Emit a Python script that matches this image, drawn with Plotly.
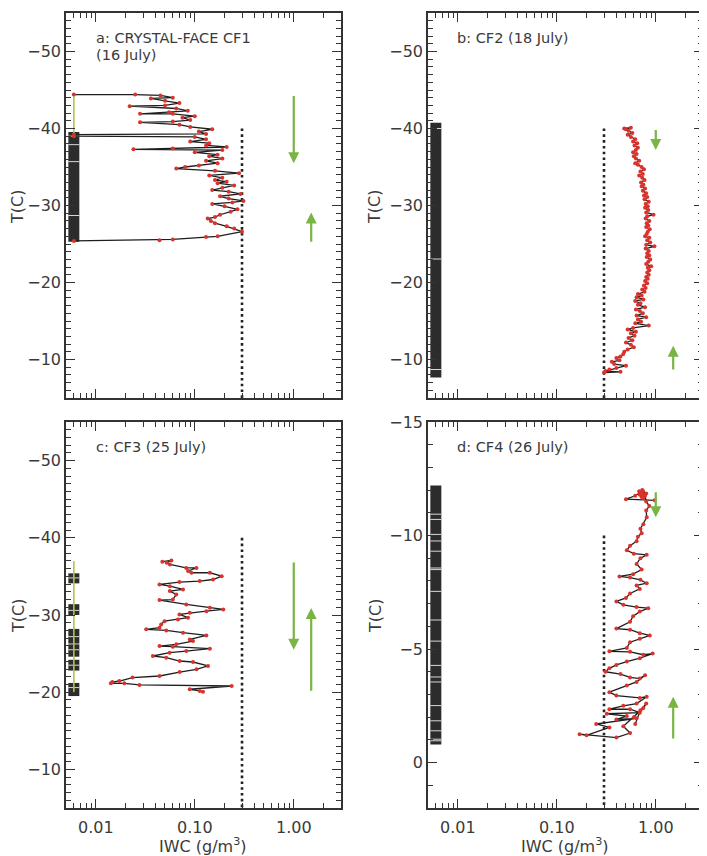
import math
import plotly.graph_objects as go

# ---------------- data ----------------
# Panel a: CRYSTAL-FACE CF1 (16 July)
a_T = [-25.4, -25.5, -25.6, -25.9, -26.0, -26.6, -27.0, -27.3, -27.7, -28.0,
       -28.3, -28.5, -28.8, -29.2, -29.5, -29.9, -30.2, -30.4, -30.6, -30.9,
       -31.2, -31.5, -31.8, -32.0, -32.3, -32.6, -32.9, -33.1, -33.3, -33.6,
       -33.9, -34.2, -34.5, -34.8, -35.0, -35.2, -35.5, -35.8, -36.1, -36.4,
       -36.6, -36.9, -37.2, -37.3, -37.4, -37.6, -37.8, -38.1, -38.3, -38.6,
       -38.9, -39.0, -39.2, -39.3, -39.6, -39.9, -40.2, -40.5, -40.8, -40.9,
       -41.1, -41.4, -41.6, -41.9, -41.9, -42.1, -42.3, -42.6, -42.9, -43.0,
       -43.3, -43.6, -43.9, -44.0, -44.3, -44.4, -44.4]
a_IWC = [0.0060, 0.044, 0.060, 0.13, 0.17, 0.30, 0.25, 0.21, 0.16, 0.145,
         0.135, 0.16, 0.18, 0.23, 0.27, 0.20, 0.15, 0.24, 0.31, 0.22,
         0.18, 0.29, 0.22, 0.15, 0.19, 0.25, 0.17, 0.21, 0.16, 0.19,
         0.14, 0.28, 0.16, 0.065, 0.08, 0.11, 0.17, 0.13, 0.19, 0.14,
         0.17, 0.10, 0.19, 0.024, 0.06, 0.21, 0.13, 0.14, 0.09, 0.13,
         0.10, 0.0060, 0.0060, 0.13, 0.11, 0.15, 0.09, 0.07, 0.028, 0.06,
         0.09, 0.075, 0.10, 0.06, 0.028, 0.055, 0.085, 0.065, 0.022, 0.05,
         0.07, 0.05, 0.036, 0.06, 0.045, 0.025, 0.0060]

# Panel b: CF2 (18 July)
b_T = [-40.0, -40.1, -39.9, -39.7, -39.4, -39.2, -38.9, -38.6, -38.3, -38.1,
       -37.8, -37.5, -37.2, -36.9, -36.7, -36.4, -36.1, -35.8, -35.5, -35.3,
       -35.0, -34.7, -34.4, -34.1, -33.9, -33.6, -33.3, -33.0, -32.7, -32.5,
       -32.2, -31.9, -31.6, -31.3, -31.1, -30.8, -30.5, -30.2, -29.9, -29.7,
       -29.4, -29.1, -28.8, -28.6, -28.3, -28.0, -27.7, -27.4, -27.2, -26.9,
       -26.6, -26.3, -26.0, -25.8, -25.5, -25.2, -24.9, -24.7, -24.4, -24.1,
       -23.8, -23.5, -23.3, -23.0, -22.7, -22.4, -22.1, -21.9, -21.6, -21.3,
       -21.0, -20.7, -20.5, -20.2, -19.9, -19.6, -19.3, -19.1, -18.8, -18.5,
       -18.3, -18.1, -17.8, -17.6, -17.3, -17.1, -16.8, -16.5, -16.3, -16.0,
       -15.7, -15.5, -15.2, -14.9, -14.7, -14.4, -14.1, -13.9, -13.6, -13.4,
       -13.1, -12.8, -12.5, -12.2, -11.9, -11.6, -11.3, -11.0, -10.7, -10.4,
       -10.2, -9.9, -9.7, -9.4, -9.2, -8.9, -8.7, -8.5, -8.4, -8.3]
b_IWC = [0.48, 0.56, 0.50, 0.53, 0.58, 0.52, 0.56, 0.62, 0.59, 0.65,
         0.61, 0.66, 0.63, 0.59, 0.64, 0.60, 0.63, 0.68, 0.62, 0.66,
         0.72, 0.76, 0.70, 0.74, 0.68, 0.73, 0.77, 0.71, 0.75, 0.72,
         0.78, 0.74, 0.80, 0.76, 0.82, 0.77, 0.85, 0.79, 0.83, 0.78,
         0.84, 0.80, 0.95, 0.82, 0.79, 0.86, 0.81, 0.84, 0.80, 0.87,
         0.83, 0.81, 0.78, 0.86, 0.82, 0.88, 0.80, 0.97, 0.79, 0.85,
         0.82, 0.86, 0.81, 0.88, 0.84, 0.80, 0.90, 0.83, 0.86, 0.82,
         0.85, 0.80, 0.83, 0.78, 0.82, 0.76, 0.79, 0.73, 0.77, 0.66,
         0.72, 0.64, 0.75, 0.62, 0.70, 0.66, 0.78, 0.63, 0.69, 0.74,
         0.64, 0.80, 0.66, 0.71, 0.62, 0.85, 0.59, 0.52, 0.63, 0.56,
         0.61, 0.53, 0.58, 0.50, 0.56, 0.60, 0.52, 0.48, 0.47, 0.44,
         0.40, 0.43, 0.36, 0.38, 0.50, 0.40, 0.34, 0.31, 0.44, 0.30]

# Panel c: CF3 (25 July)
c_T = [-36.9, -37.06, -36.77, -36.55, -36.1, -36.1, -35.7, -35.47, -35.47, -35.03,
       -34.6, -34.4, -34.26, -33.96, -33.74, -33.31, -33.1, -32.67, -32.0, -31.93,
       -31.37, -30.94, -30.72, -30.5, -30.3, -30.08, -29.65, -29.43, -29.2, -28.78,
       -28.35, -28.14, -28.0, -27.71, -27.36, -26.84, -26.63, -26.2, -25.98, -25.9,
       -25.64, -25.33, -25.12, -24.69, -24.47, -24.04, -23.91, -23.4, -22.96, -22.61,
       -22.1, -21.89, -21.45, -21.32, -21.15, -21.15, -20.94, -20.8, -20.38, -20.16,
       -20.05]
c_IWC = [0.047, 0.058, 0.052, 0.056, 0.082, 0.104, 0.0855, 0.0925, 0.142, 0.187,
         0.153, 0.112, 0.070, 0.044, 0.056, 0.076, 0.056, 0.065, 0.060, 0.044,
         0.082, 0.142, 0.194, 0.131, 0.089, 0.070, 0.0855, 0.0676, 0.0495, 0.0457,
         0.044, 0.0323, 0.0515, 0.076, 0.131, 0.089, 0.096, 0.065, 0.044, 0.060,
         0.142, 0.082, 0.0557, 0.0377, 0.0515, 0.0703, 0.096, 0.136, 0.104, 0.0703,
         0.044, 0.0235, 0.0173, 0.0147, 0.0142, 0.0194, 0.0276, 0.236, 0.089, 0.112,
         0.121]

# Panel d: CF4 (26 July)
d_T = [-11.55, -11.6, -11.75, -11.9, -11.97, -11.85, -11.7, -11.95, -11.8, -11.9,
       -11.8, -11.65, -11.85, -12.0, -11.75, -11.5,
       -11.3, -11.1, -10.8, -10.5, -10.3, -10.1, -9.95, -9.75, -9.55, -9.35,
       -9.2, -9.15, -9.0, -8.75, -8.5, -8.3, -8.2, -8.15, -8.05, -7.9,
       -7.8, -7.65, -7.45, -7.25, -7.1, -6.95, -6.85, -6.8, -6.65, -6.45,
       -6.2, -5.9, -5.85, -5.7, -5.6, -5.45, -5.3, -5.05, -4.9, -4.88,
       -4.75, -4.8, -4.6, -4.45, -4.3, -4.15, -4.0, -3.9, -3.75, -3.7,
       -3.85, -3.55, -3.4, -3.1, -2.95, -2.85, -2.9, -2.6, -2.5, -2.35,
       -2.35, -2.2, -2.15, -2.05, -1.9, -1.95, -1.7, -1.55, -1.2, -1.25,
       -1.1, -1.3, -1.6, -2.0, -2.4, -2.6, -2.3, -1.7]
d_IWC = [0.975, 0.50, 0.62, 0.70, 0.74, 0.80, 0.72, 0.68, 0.76, 0.72,
         0.69, 0.75, 0.71, 0.73, 0.78, 0.80,
         0.86, 0.80, 0.81, 0.75, 0.70, 0.72, 0.66, 0.64, 0.55, 0.51,
         0.60, 0.81, 0.70, 0.64, 0.72, 0.59, 0.43, 0.55, 0.70, 0.81,
         0.64, 0.69, 0.55, 0.50, 0.40, 0.47, 0.64, 0.84, 0.69, 0.59,
         0.55, 0.40, 0.55, 0.69, 0.87, 0.69, 0.55, 0.51, 0.34, 0.55,
         0.75, 0.93, 0.69, 0.51, 0.40, 0.34, 0.31, 0.44, 0.55, 0.69,
         0.78, 0.64, 0.51, 0.34, 0.40, 0.69, 0.81, 0.64, 0.47, 0.34,
         0.55, 0.69, 0.32, 0.51, 0.40, 0.64, 0.25, 0.34, 0.20, 0.17,
         0.40, 0.55, 0.47, 0.60, 0.75, 0.80, 0.70, 0.62]

for t, v in [(a_T, a_IWC), (b_T, b_IWC), (c_T, c_IWC), (d_T, d_IWC)]:
    assert len(t) == len(v), (len(t), len(v))

# flagged (below-detection) samples plotted at the left edge
flag_x = 0.006
a_flag_T = [-39.55, -25.3]
b_flag_T = [-40.75, -7.65]
c_flag_T = [-35.4, -34.1, None, -31.4, -30.0, None, -28.2, -26.3, None,
            -26.2, -24.6, None, -24.2, -22.8, None, -21.2, -19.5]
d_flag_T = [-12.2, -0.8]
# thin gaps inside the flagged column
a_gap_T = [-39.0, -37.9, -35.7, -28.7]
b_gap_T = [-40.0, -23.05, -8.7]
c_gap_T = [-34.8, -30.6, -27.2, -25.5, -23.5, -20.6]
d_gap_T = [-10.94, -10.71, -10.05, -9.76, -9.31, -8.57, -8.5, -7.54, -6.28, -5.35,
           -4.28, -3.77, -3.55, -2.51, -1.84, -1.4, -1.03, -0.96]
a_green_T = [-44.4, -39.3]
c_green_T = [-37.0, -20.0]

# IWC threshold line
thresh_x = 0.3
thresh_T_abc = [-40.0, -5.0]
thresh_T_d = [-10.0, 2.0]

# arrows: (x, tail T, tip T)
arrows = {
    1: [(1.0, -44.4, -35.5), (1.5, -25.1, -29.1)],
    2: [(1.0, -40.0, -37.2), (1.5, -8.5, -11.8)],
    3: [(1.0, -37.0, -25.5), (1.5, -20.0, -30.9)],
    4: [(1.0, -11.97, -10.8), (1.5, -1.0, -2.9)],
}

labels = {1: ["a: CRYSTAL-FACE CF1", "(16 July)"], 2: ["b: CF2 (18 July)"],
          3: ["c: CF3 (25 July)"], 4: ["d: CF4 (26 July)"]}

x_ticks = [0.01, 0.1, 1.0]
x_ticktext = ["0.01", "0.10", "1.00"]
x_minor = [0.006, 0.007, 0.008, 0.009, 0.02, 0.03, 0.04, 0.05, 0.06, 0.07, 0.08,
           0.09, 0.2, 0.3, 0.4, 0.5, 0.6, 0.7, 0.8, 0.9, 2, 3]

x_title = "IWC (g/m<sup>3</sup>)"
y_title = "T(C)"

# ---------------- figure ----------------
FONT = "DejaVu Sans"
TXT = "#3a3a3a"
AX = "#333333"
RED = "#d8332c"
LINE = "#1e1e1e"
GREEN = "#78b545"
LGREEN = "#a9c94a"
BAR = "#2c2c2c"

fig = go.Figure()

panels = [
    (1, a_T, a_IWC, a_flag_T, a_gap_T, a_green_T, thresh_T_abc),
    (2, b_T, b_IWC, b_flag_T, b_gap_T, None, thresh_T_abc),
    (3, c_T, c_IWC, c_flag_T, c_gap_T, c_green_T, thresh_T_abc),
    (4, d_T, d_IWC, d_flag_T, d_gap_T, None, thresh_T_d),
]

for k, T, IWC, fT, gapT, gT, thT in panels:
    xa = "x" if k == 1 else f"x{k}"
    ya = "y" if k == 1 else f"y{k}"
    fig.add_trace(go.Scatter(x=[thresh_x] * len(thT), y=thT, mode="lines",
                             line=dict(color="#222", width=2.6, dash="2.6px,3.2px"),
                             xaxis=xa, yaxis=ya, showlegend=False, hoverinfo="skip"))
    fx = [None if t is None else flag_x for t in fT]
    fig.add_trace(go.Scatter(x=fx, y=fT, mode="lines",
                             line=dict(color=BAR, width=11),
                             xaxis=xa, yaxis=ya, showlegend=False, hoverinfo="skip"))
    fig.add_trace(go.Scatter(x=[flag_x] * len(gapT), y=gapT, mode="markers",
                             marker=dict(symbol="line-ew", size=8,
                                         line=dict(color="#d8d8d8", width=1)),
                             xaxis=xa, yaxis=ya, showlegend=False, hoverinfo="skip"))
    if gT is not None:
        fig.add_trace(go.Scatter(x=[flag_x] * len(gT), y=gT, mode="lines",
                                 line=dict(color=LGREEN, width=1.6),
                                 xaxis=xa, yaxis=ya, showlegend=False, hoverinfo="skip"))
    fig.add_trace(go.Scatter(x=IWC, y=T, mode="lines+markers",
                             line=dict(color=LINE, width=1.3),
                             marker=dict(color=RED, size=4, line=dict(width=0)),
                             xaxis=xa, yaxis=ya, showlegend=False))

# The page body adds an 8 px offset; lay out in page pixels minus that offset.
OFF = 8
W, H = 707 - OFF, 856 - OFF
L = 66 - OFF
TOP = 13 - OFF
R = W - (703 - OFF)
B = H - (808 - OFF)
pw = W - L - R
ph = H - TOP - B

def dom_x(p0, p1):
    return [(p0 - 66) / pw, (p1 - 66) / pw]

def dom_y(top, bot):
    return [(808 - bot) / ph, (808 - top) / ph]

xdom_l = dom_x(66, 341)
xdom_r = dom_x(428, 703)
ydom_t = dom_y(13, 398)
ydom_b = dom_y(422, 808)

def xaxis(dom, anchor, labels_on):
    return dict(domain=dom, anchor=anchor, type="log", automargin=False,
                range=[math.log10(0.005), math.log10(3.0)],
                tickvals=x_ticks, ticktext=x_ticktext, showticklabels=labels_on,
                ticks="inside", ticklen=9, tickwidth=1.2, tickcolor=AX,
                minor=dict(tickvals=x_minor, ticks="inside", ticklen=5,
                           tickwidth=1.1, tickcolor=AX),
                mirror="ticks", showline=True, linecolor=AX, linewidth=1.6,
                showgrid=False, zeroline=False, ticklabelstandoff=4,
                tickfont=dict(family=FONT, size=16, color=TXT))

def yaxis(dom, anchor, rng, dtick, mdtick):
    return dict(domain=dom, anchor=anchor, range=rng, dtick=dtick, tick0=0,
                automargin=False,
                ticks="inside", ticklen=9, tickwidth=1.2, tickcolor=AX,
                minor=dict(dtick=mdtick, ticks="inside", ticklen=5,
                           tickwidth=1.1, tickcolor=AX),
                mirror="ticks", showline=True, linecolor=AX, linewidth=1.6,
                showgrid=False, zeroline=False,
                tickfont=dict(family=FONT, size=16, color=TXT))

fig.update_layout(
    width=W, height=H, margin=dict(l=L, r=R, t=TOP, b=B),
    paper_bgcolor="white", plot_bgcolor="white",
    xaxis=xaxis(xdom_l, "y", False), yaxis=yaxis(ydom_t, "x", [-5, -55], 10, 1),
    xaxis2=xaxis(xdom_r, "y2", False), yaxis2=yaxis(ydom_t, "x2", [-5, -55], 10, 1),
    xaxis3=xaxis(xdom_l, "y3", True), yaxis3=yaxis(ydom_b, "x3", [-5, -55], 10, 1),
    xaxis4=xaxis(xdom_r, "y4", True), yaxis4=yaxis(ydom_b, "x4", [2, -15], 5, 1),
)

anns = []
for k, arr in arrows.items():
    xr = "x" if k == 1 else f"x{k}"
    yr = "y" if k == 1 else f"y{k}"
    for (ax_x, tail, tip) in arr:
        lx = math.log10(ax_x)
        anns.append(dict(x=lx, y=tip, ax=lx, ay=tail, xref=xr, yref=yr,
                         axref=xr, ayref=yr, showarrow=True, arrowhead=2,
                         arrowsize=1.0, arrowwidth=2.2, arrowcolor=GREEN, text=""))
    for i, line in enumerate(labels[k]):
        anns.append(dict(text=line, x=0.1, y=0.96 - i * 0.043,
                         xref=f"{xr} domain", yref=f"{yr} domain",
                         xanchor="left", yanchor="top", showarrow=False,
                         font=dict(family=FONT, size=14.5, color=TXT)))

# axis titles, positioned by page pixel coordinates
def px_x(px):
    return (px - 66) / pw

def px_y(py):
    return (808 - py) / ph

for cx, cy in [(18, 207), (375, 207), (18, 616), (375, 616)]:
    anns.append(dict(text=y_title, x=px_x(cx), y=px_y(cy), xref="paper", yref="paper",
                     xanchor="center", yanchor="middle", textangle=-90, showarrow=False,
                     font=dict(family=FONT, size=16, color=TXT)))
for cx in [203, 565]:
    anns.append(dict(text=x_title, x=px_x(cx), y=px_y(845), xref="paper", yref="paper",
                     xanchor="center", yanchor="middle", showarrow=False,
                     font=dict(family=FONT, size=16, color=TXT)))

fig.update_layout(annotations=anns)

fig.write_html("out.html")
